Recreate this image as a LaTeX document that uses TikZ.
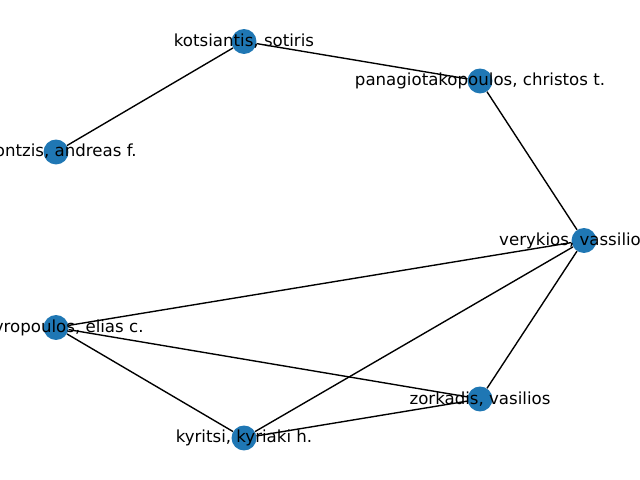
\documentclass[tikz,border=0pt]{standalone}
\usepackage{fontspec}
\setmainfont{DejaVu Sans}
\definecolor{nodeblue}{RGB}{31,119,180}
\begin{document}
\begin{tikzpicture}[x=0.01in,y=-0.01in,
        vertex/.style={circle,fill=nodeblue,minimum size=18pt,inner sep=0pt},
        nametext/.style={font=\fontsize{12}{14}\selectfont,inner sep=0pt,text=black},
        edge/.style={line width=1pt}]
        \useasboundingbox (0,0) rectangle (640,480);
        \clip (0,0) rectangle (640,480);

        \node[vertex] (kot) at (244,41.5) {};
        \node[vertex] (pan) at (480,81) {};
        \node[vertex] (gko) at (56,152) {};
        \node[vertex] (ver) at (584,240.5) {};
        \node[vertex] (sta) at (56,327.5) {};
        \node[vertex] (zor) at (480,399) {};
        \node[vertex] (kyr) at (244,438) {};

        \draw[edge] (kot) -- (gko);
        \draw[edge] (kot) -- (pan);
        \draw[edge] (pan) -- (ver);
        \draw[edge] (ver) -- (sta);
        \draw[edge] (ver) -- (kyr);
        \draw[edge] (ver) -- (zor);
        \draw[edge] (sta) -- (zor);
        \draw[edge] (sta) -- (kyr);
        \draw[edge] (kyr) -- (zor);

        \node[nametext] at (kot) {kotsiantis, sotiris};
        \node[nametext] at (pan) {panagiotakopoulos, christos t.};
        \node[nametext] at (gko) {gkontzis, andreas f.};
        \node[nametext] at (ver) {verykios, vassilios s.};
        \node[nametext] at (sta) {stavropoulos, elias c.};
        \node[nametext] at (zor) {zorkadis, vasilios};
        \node[nametext] at (kyr) {kyritsi, kyriaki h.};
    \end{tikzpicture}
\end{document}
